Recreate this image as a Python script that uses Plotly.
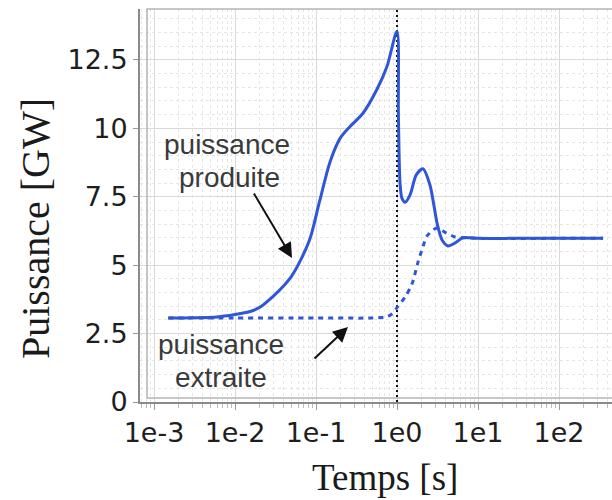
import plotly.graph_objects as go

# Puissance produite (solid) : temps [s] / puissance [GW]
t_prod = [0.0015, 0.003, 0.006, 0.01, 0.015, 0.02, 0.03, 0.04, 0.05, 0.065,
          0.085, 0.11, 0.15, 0.2, 0.26, 0.38, 0.56, 0.75, 1.0, 1.04,
          1.09, 1.15, 1.26, 1.45, 1.73, 2.09, 2.55, 2.85, 3.12, 3.6,
          4.27, 5.2, 6.5, 8.0, 10.0, 30.0, 100.0, 350.0]
p_prod = [3.07, 3.08, 3.11, 3.2, 3.3, 3.45, 3.88, 4.25, 4.6, 5.2,
          6.0, 7.3, 8.8, 9.65, 10.05, 10.55, 11.4, 12.25, 13.55, 10.5,
          8.0, 7.45, 7.3, 7.57, 8.3, 8.52, 7.93, 7.2, 6.54, 5.92,
          5.7, 5.81, 6.0, 6.0, 5.98, 5.98, 5.98, 5.98]

# Puissance extraite (dotted)
t_extr = [0.0015, 0.01, 0.1, 0.5, 0.7, 0.85, 1.0, 1.26, 1.53, 1.82,
          2.09, 2.35, 3.12, 4.03, 5.2, 7.0, 10.0, 100.0, 350.0]
p_extr = [3.07, 3.07, 3.07, 3.07, 3.1, 3.2, 3.45, 3.84, 4.31, 5.12,
          5.67, 6.07, 6.36, 6.18, 6.03, 6.0, 5.98, 5.98, 5.98]

x_ticks = [1e-3, 1e-2, 1e-1, 1, 10, 100]
x_labels = ["1e-3", "1e-2", "1e-1", "1e0", "1e1", "1e2"]
y_ticks = [0, 2.5, 5, 7.5, 10, 12.5]
y_labels = ["0", "2.5", "5", "7.5", "10", "12.5"]

BLUE = "#2f56d6"
TICK_FONT = dict(family="DejaVu Sans", size=27, color="#1e1e1e")
SERIF = "Liberation Serif"
NOTE_FONT = dict(family="Liberation Sans", size=28, color="#3a3a3a")

minor_x = [m * 10.0 ** k for k in range(-4, 3) for m in range(2, 10)]

fig = go.Figure()

# instant of the transient (t = 1 s)
fig.add_trace(go.Scatter(
    x=[1, 1], y=[0, 14.36], mode="lines",
    line=dict(color="#111111", width=2, dash="2px,3px"),
    hoverinfo="skip", showlegend=False))

fig.add_trace(go.Scatter(
    x=t_extr, y=p_extr, mode="lines",
    line=dict(color=BLUE, width=3, dash="5px,5px", shape="spline",
              smoothing=0.8),
    name="puissance extraite", showlegend=False))

fig.add_trace(go.Scatter(
    x=t_prod, y=p_prod, mode="lines",
    line=dict(color=BLUE, width=3, shape="spline", smoothing=0.8),
    name="puissance produite", showlegend=False))

fig.update_layout(
    width=612, height=500,
    margin=dict(l=140, r=0, t=9, b=98),
    paper_bgcolor="white", plot_bgcolor="white",
    xaxis=dict(
        type="log", range=[-3.1728, 2.6543],
        tickmode="array", tickvals=x_ticks, ticktext=x_labels,
        tickfont=TICK_FONT, ticks="outside", ticklen=6, tickcolor="#999",
        ticklabelstandoff=0,
        showline=True, linecolor="#8a8a8a", linewidth=2,
        showgrid=True, gridcolor="#dadada", gridwidth=1,
        zeroline=False,
        minor=dict(tickmode="array", tickvals=minor_x, ticks="outside",
                   ticklen=4, tickcolor="#bbb", showgrid=True,
                   gridcolor="#e6e6e6", griddash="dot"),
    ),
    yaxis=dict(
        range=[0, 14.36],
        tickmode="array", tickvals=y_ticks, ticktext=y_labels,
        tickfont=TICK_FONT, ticks="outside", ticklen=5, tickcolor="#999",
        ticklabelstandoff=0,
        showline=True, linecolor="#8a8a8a", linewidth=2,
        showgrid=True, gridcolor="#dadada", gridwidth=1,
        zeroline=False,
        minor=dict(dtick=0.5, ticks="", showgrid=True,
                   gridcolor="#e6e6e6", griddash="dot"),
    ),
    shapes=[dict(type="rect", xref="paper", yref="paper",
                 x0=7 / 472, x1=1.2, y0=4 / 393, y1=1.0,
                 line=dict(color="#b5b5b5", width=1.5), layer="above")],
)

annotations = [
    # axis titles
    dict(text="Temps [s]", xref="paper", yref="paper",
         x=(385 - 140) / 472, y=-(477 - 402) / 393, xanchor="center",
         yanchor="middle", showarrow=False,
         font=dict(family=SERIF, size=37, color="#1a1a1a")),
    dict(text="Puissance [GW]", xref="paper", yref="paper",
         x=-(140 - 35) / 472, y=(402 - 229) / 393, xanchor="center",
         yanchor="middle", textangle=-90, showarrow=False,
         font=dict(family=SERIF, size=40, color="#1a1a1a")),
    # curve labels
    dict(text="puissance", x=-2.099, y=(402 - 145) / 27.36,
         showarrow=False, font=NOTE_FONT),
    dict(text="produite", x=-2.074, y=(402 - 178) / 27.36,
         showarrow=False, font=NOTE_FONT),
    dict(text="puissance", x=-2.173, y=(402 - 345) / 27.36,
         showarrow=False, font=NOTE_FONT),
    dict(text="extraite", x=-2.173, y=(402 - 378) / 27.36,
         showarrow=False, font=NOTE_FONT),
    # arrows
    dict(text="", x=-1.296, y=(402 - 258) / 27.36, ax=-39, ay=-66,
         showarrow=True, arrowhead=2, arrowsize=1.5, arrowwidth=2,
         arrowcolor="#111111"),
    dict(text="", x=-0.605, y=(402 - 327) / 27.36, ax=-35, ay=33,
         showarrow=True, arrowhead=2, arrowsize=1.5, arrowwidth=2,
         arrowcolor="#111111"),
]
fig.update_layout(annotations=annotations)

fig.write_html("out.html")
